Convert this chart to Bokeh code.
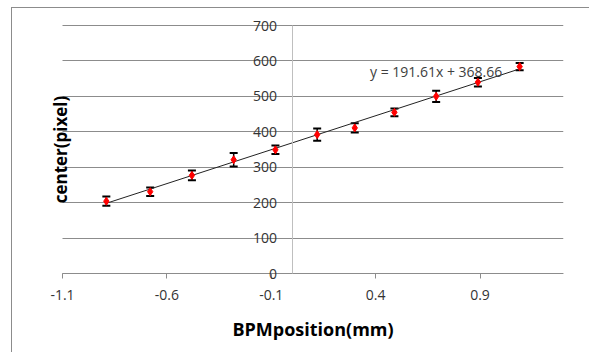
import math
from bokeh.plotting import figure
from bokeh.models import Range1d, FixedTicker, Label
from bokeh.embed import file_html
from bokeh.resources import INLINE

# data
bpm_position = [-0.89, -0.68, -0.48, -0.28, -0.08, 0.12, 0.30, 0.49, 0.69, 0.89, 1.09]
center_pixel = [204, 231, 277, 321, 349, 392, 411, 455, 500, 540, 584]
center_error = [13, 12, 14, 19, 12, 17, 13, 11, 16, 12, 10]

# linear trendline shown on the chart
slope = 191.61
intercept = 368.66
trend_label = "y = 191.61x + 368.66"

x_ticks = [-1.1, -0.6, -0.1, 0.4, 0.9]
x_tick_labels = ["-1.1", "-0.6", "-0.1", "0.4", "0.9"]
y_ticks = [0, 100, 200, 300, 400, 500, 600, 700]
y_tick_labels = ["0", "100", "200", "300", "400", "500", "600", "700"]
x_title = "BPMposition(mm)"
y_title = "center(pixel)"
y_axis_at = 0  # vertical axis crosses at x = 0
x_axis_at = 0  # horizontal axis crosses at y = 0
x_min, x_max = -1.1, 1.3
y_min, y_max = 0, 700

# layout (pixels)
PLOT_W, PLOT_H = 501, 248   # size of the -1.1..1.3 x 0..700 area
PAD_TOP = 10                # room above so the top axis label is not clipped
PAD_BOTTOM = 70             # room below for the x tick labels and title
PAD_LEFT = 40               # room at the left for the vertical axis title
u_y = (y_max - y_min) / PLOT_H
u_x = (x_max - x_min) / PLOT_W

FONT = "Open Sans"
GRID = "#8c8c8c"
TEXT = "#333333"

p = figure(width=578, height=345, output_backend="svg", toolbar_location=None,
           x_range=Range1d(x_min - PAD_LEFT * u_x, x_max),
           y_range=Range1d(y_min - PAD_BOTTOM * u_y, y_max + PAD_TOP * u_y),
           min_border_left=50 - PAD_LEFT, min_border_right=27,
           min_border_top=17 - PAD_TOP, min_border_bottom=80 - PAD_BOTTOM, title=None)
p.outline_line_color = None
p.background_fill_color = "white"
p.border_fill_color = "white"
p.styles = {"margin-left": "11px", "margin-top": "7px",
            "border-left": "1px solid #8c8c8c", "border-top": "1px solid #8c8c8c"}

# x axis crossing at y = 0
xa = p.xaxis[0]
xa.fixed_location = x_axis_at
xa.bounds = (x_min, x_max)
xa.ticker = FixedTicker(ticks=x_ticks)
xa.major_label_overrides = dict(zip(x_ticks, x_tick_labels))
xa.axis_line_color = GRID
xa.major_tick_line_color = GRID
xa.major_tick_in = 0
xa.major_tick_out = 5
xa.minor_tick_line_color = None
xa.major_label_text_font = FONT
xa.major_label_text_font_size = "14px"
xa.major_label_text_color = TEXT
xa.major_label_standoff = 11

# y axis crossing at x = 0
ya = p.yaxis[0]
ya.fixed_location = y_axis_at
ya.bounds = (y_min, y_max)
ya.ticker = FixedTicker(ticks=y_ticks)
ya.major_label_overrides = dict(zip(y_ticks, y_tick_labels))
ya.axis_line_color = "#bfbfbf"
ya.major_tick_line_color = None
ya.major_tick_out = 0
ya.major_tick_in = 0
ya.minor_tick_line_color = None
ya.major_label_text_font = FONT
ya.major_label_text_font_size = "14px"
ya.major_label_text_color = TEXT
ya.major_label_standoff = 15

p.xgrid.grid_line_color = None
p.ygrid.grid_line_color = GRID
p.ygrid.grid_line_width = 1
p.ygrid.bounds = (y_min, y_max)
p.ygrid.cross_bounds = (x_min, x_max)

# axis titles
p.add_layout(Label(x=(x_min + x_max) / 2, y=y_min, y_offset=-55, text=x_title,
                   text_align="center", text_baseline="middle",
                   text_font=FONT, text_font_style="bold", text_font_size="18px",
                   text_color="black"))
p.add_layout(Label(x=x_min, y=(y_min + y_max) / 2, x_offset=-2.5, text=y_title,
                   angle=math.pi / 2, text_align="center", text_baseline="middle",
                   text_font=FONT, text_font_style="bold", text_font_size="17px",
                   text_color="black"))

# error bars
lower = [c - e for c, e in zip(center_pixel, center_error)]
upper = [c + e for c, e in zip(center_pixel, center_error)]
p.segment(x0=bpm_position, y0=lower, x1=bpm_position, y1=upper,
          line_color="black", line_width=1.5)
p.scatter(x=bpm_position, y=lower, marker="dash", size=8, line_color="black", line_width=2)
p.scatter(x=bpm_position, y=upper, marker="dash", size=8, line_color="black", line_width=2)

# trendline
tx = [min(bpm_position), max(bpm_position)]
ty = [slope * v + intercept for v in tx]
p.line(tx, ty, line_color="#222222", line_width=1)

# points
p.scatter(x=bpm_position, y=center_pixel, marker="diamond", size=8,
          fill_color="red", line_color="red")

eq = Label(x=0.373, y=569, text=trend_label, text_font=FONT, text_font_size="14px",
           text_color="#404040", text_baseline="middle", text_align="left")
p.add_layout(eq)

open("out.html", "w").write(file_html(p, INLINE))
